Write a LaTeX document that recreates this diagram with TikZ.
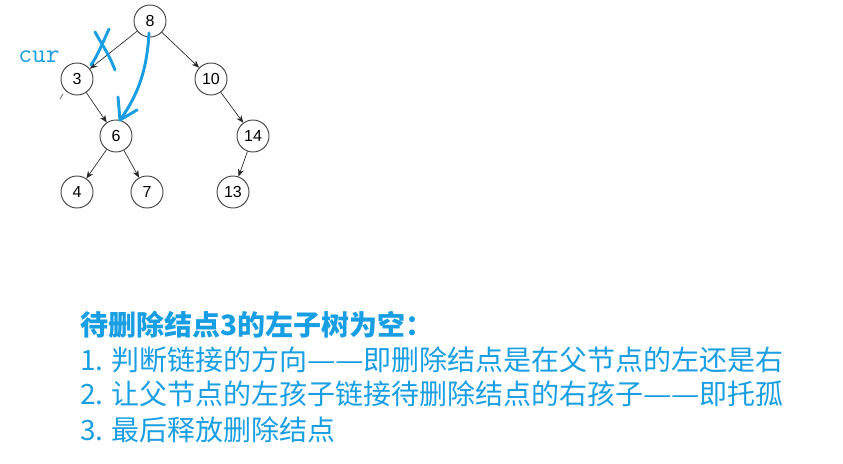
\documentclass[tikz,border=0pt]{standalone}
\usepackage{fontspec}
\setsansfont{Liberation Sans}
\newfontfamily\cjk{Noto Sans CJK SC}
\usetikzlibrary{arrows.meta}
\definecolor{inkblue}{RGB}{24,158,226}
\newcommand\fulldash{\makebox[1em]{\resizebox{1.02em}{\height}{—}}}
\begin{document}
\begin{tikzpicture}[
    x=0.75pt, y=-0.75pt,
    key/.style={circle, draw=black!75, line width=0.7pt, minimum size=24pt, inner sep=0pt, font=\sffamily\fontsize{12}{14}\selectfont},
    edge/.style={-{Stealth[length=5.5pt,width=4.5pt]}, line width=0.5pt, black!85},
    ink/.style={inkblue, line width=2.2pt, line cap=round, line join=round},
    note/.style={anchor=west, inkblue, font=\cjk\fontsize{21}{24}\selectfont, inner sep=0pt}
]
    \useasboundingbox (0,0) rectangle (843,464);

    % Tree nodes
    \node[key] (n8) at (150,21) {8};
    \node[key] (n3) at (77,79) {3};
    \node[key] (n10) at (211,79) {10};
    \node[key] (n6) at (116,136) {6};
    \node[key] (n14) at (253,136) {14};
    \node[key] (n4) at (77,192) {4};
    \node[key] (n7) at (147,192) {7};
    \node[key] (n13) at (233,192) {13};

    % Edges
    \draw[edge] (n8) -- (n3);
    \draw[edge] (n8) -- (n10);
    \draw[edge] (n3) -- (n6);
    \draw[edge] (n10) -- (n14);
    \draw[edge] (n6) -- (n4);
    \draw[edge] (n6) -- (n7);
    \draw[edge] (n14) -- (n13);

    % Stub left of 3
    \coordinate (stubA) at (63,94);
    \coordinate (stubB) at (60,99);
    \draw[line width=0.5pt, black!70] (stubA) -- (stubB);

    % Hand-drawn marks
    \node[inkblue, font=\ttfamily\fontsize{20}{24}\selectfont, inner sep=0pt] (cur) at (39,57) {cur};
    \draw[ink] (95,32) .. controls (102,45) and (108,52) .. (115,70);
    \draw[ink] (109,29) .. controls (102,44) and (98,55) .. (91,65);
    \coordinate (tip) at (120,120);
    \draw[ink] (149,33) .. controls (147,70) and (138,95) .. (tip);
    \draw[ink] (118,97) -- (tip) -- (137,110);

    % Explanation
    \node[note, font=\cjk\bfseries\fontsize{21}{24}\selectfont] (title) at (80,325) {待删除结点3的左子树为空：};
    \node[note] (step1) at (80,360) {1. 判断链接的方向\fulldash\fulldash 即删除结点是在父节点的左还是右};
    \node[note] (step2) at (80,394) {2. 让父节点的左孩子链接待删除结点的右孩子\fulldash\fulldash 即托孤};
    \node[note] (step3) at (80,430) {3. 最后释放删除结点};

\end{tikzpicture}
\end{document}
